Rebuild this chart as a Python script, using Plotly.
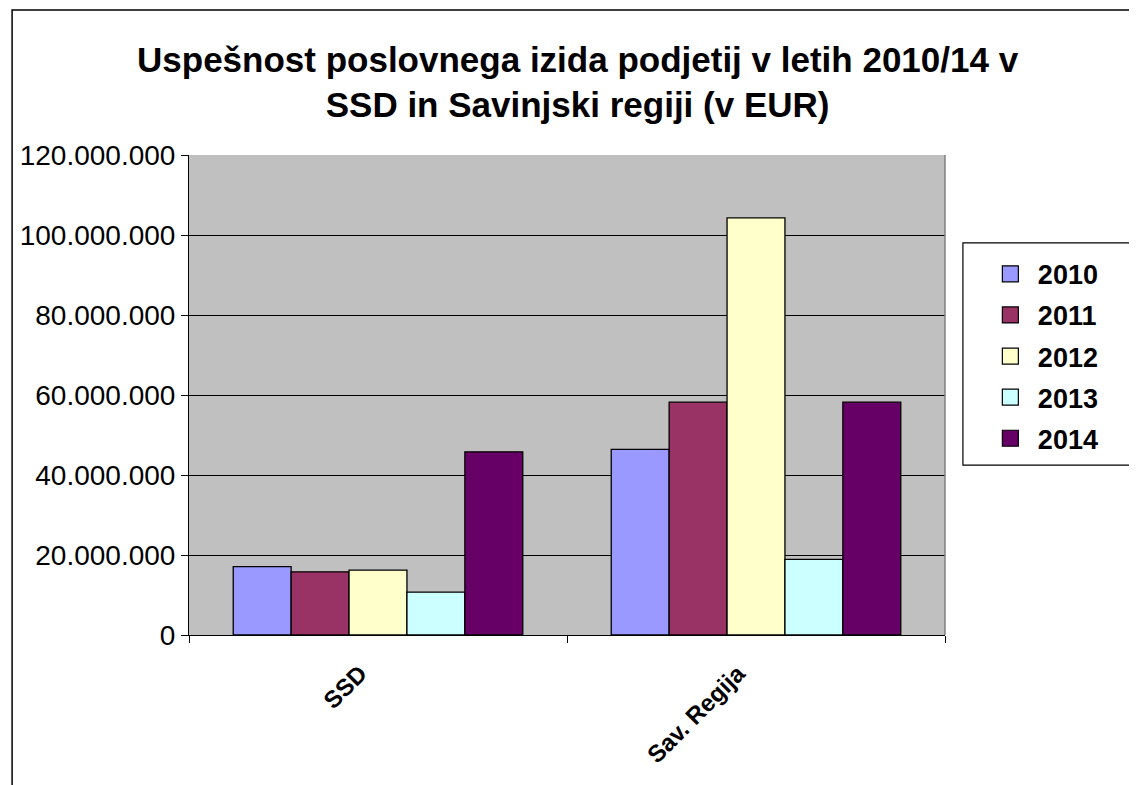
import plotly.graph_objects as go

# values (EUR)
categories = ['SSD', 'Sav. Regija']
years = ['2010', '2011', '2012', '2013', '2014']
v2010 = [17_100_000, 46_400_000]
v2011 = [15_800_000, 58_200_000]
v2012 = [16_200_000, 104_300_000]
v2013 = [10_700_000, 18_900_000]
v2014 = [45_800_000, 58_200_000]
y_ticks = [0, 20_000_000, 40_000_000, 60_000_000, 80_000_000, 100_000_000, 120_000_000]

series = [v2010, v2011, v2012, v2013, v2014]
colors = ['#9999FF', '#993366', '#FFFFCC', '#CCFFFF', '#660066']

FONT = 'Liberation Sans, Arial, sans-serif'

fig = go.Figure()
for name, vals, col in zip(years, series, colors):
    fig.add_trace(go.Bar(
        x=categories, y=vals, name=name, showlegend=False,
        marker=dict(color=col, line=dict(color='black', width=1.3)),
    ))

# legend-only entries, so the swatches come out as bigger squares
for name, col in zip(years, colors):
    fig.add_trace(go.Scatter(
        x=[None], y=[None], mode='markers', name=f'<b> {name}</b>', legendgroup=name,
        marker=dict(symbol='square', size=16, color=col, line=dict(color='black', width=1.2)),
    ))


def tick_text(v):
    return f'{v:,}'.replace(',', '.')


# page body has an 8px margin, so the figure is a bit smaller than the window
fig.update_layout(
    width=1129, height=777,
    barmode='group', bargap=0.234, bargroupgap=0,
    paper_bgcolor='white', plot_bgcolor='#C0C0C0',
    font=dict(family=FONT, color='black'),
    margin=dict(l=177, r=192, t=147, b=150),
    title=dict(
        text='<b>Uspešnost poslovnega izida podjetij v letih 2010/14 v<br>SSD in Savinjski regiji (v EUR)</b>',
        xref='paper', x=0.514, xanchor='center',
        yref='container', y=0.918, yanchor='top',
        font=dict(size=35, family=FONT),
    ),
    xaxis=dict(
        tickangle=-45, tickfont=dict(size=24, family=FONT),
        tickvals=categories, ticktext=[f'<b>{c}</b>' for c in categories],
        ticks='outside', tickson='boundaries', ticklen=7, tickcolor='black',
        ticklabelshift=-18, ticklabelstandoff=14,
        showline=True, linecolor='black', linewidth=1, showgrid=False,
    ),
    yaxis=dict(
        range=[0, 120_000_000], tickvals=y_ticks,
        ticktext=[tick_text(v) for v in y_ticks],
        tickfont=dict(size=28, family=FONT),
        ticks='outside', ticklen=7, tickcolor='black',
        showgrid=True, gridcolor='black', gridwidth=1,
        showline=True, linecolor='black', linewidth=1, zeroline=False,
    ),
    legend=dict(
        x=1.06, xanchor='left', y=0.8025, yanchor='top',
        font=dict(size=27, family=FONT), itemsizing='trace',
        bgcolor='rgba(0,0,0,0)', borderwidth=0, tracegroupgap=3,
    ),
    shapes=[
        # outer chart frame (only top and left edges fall inside the window)
        dict(type='rect', xref='paper', yref='paper',
             x0=-0.234, x1=1.4, y0=-0.5, y1=1.302,
             line=dict(color='black', width=1.5), layer='below'),
        # legend box
        dict(type='rect', xref='paper', yref='paper',
             x0=1.0237, x1=1.4, y0=0.354, y1=0.817,
             line=dict(color='black', width=1.2)),
        # plot area border
        dict(type='line', xref='paper', yref='paper',
             x0=1, x1=1, y0=0, y1=1, line=dict(color='#808080', width=1.5)),
    ],
)

fig.write_html('out.html')
